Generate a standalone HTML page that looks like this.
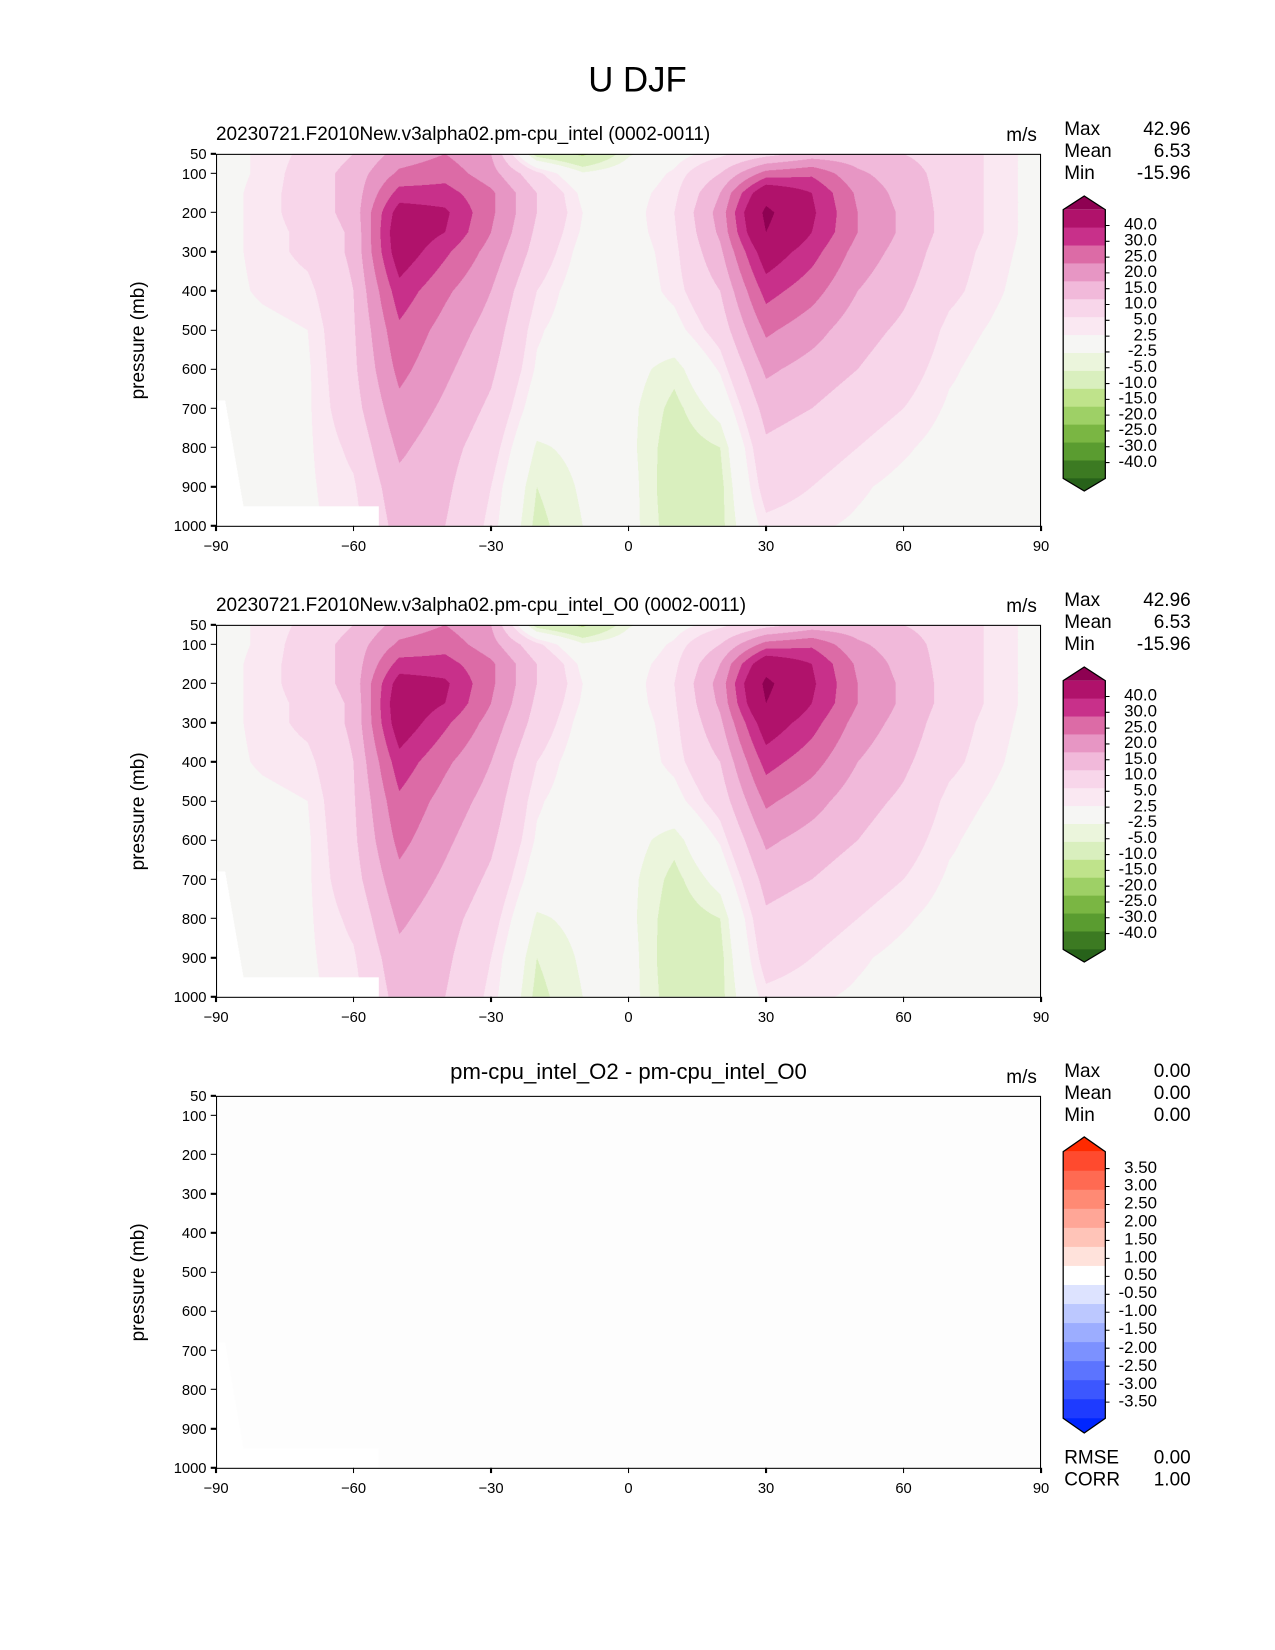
<!DOCTYPE html>
<html><head><meta charset="utf-8">
<style>
body{margin:0;background:#fff;}
#wrap{position:relative;width:1275px;height:1650px;overflow:hidden;background:#fff;}
#root{position:absolute;left:0;top:0;width:1210px;height:1566px;background:#fff;font-family:"Liberation Sans","DejaVu Sans",sans-serif;color:#000;transform:scale(1.0537);transform-origin:0 0;}
.t{position:absolute;white-space:nowrap;}
.ax{position:absolute;border:1.3px solid #000;box-sizing:border-box;}
canvas{position:absolute;}
</style></head>
<body>
<div id="wrap">
<div id="root">
<div class="t" style="left:0;width:1210px;text-align:center;top:57px;font-size:33px;"><span style="position:relative;left:0px">U DJF</span></div>
</div>
</div>
<script>
// ---- data ----
const lats = [-90,-80,-70,-60,-50,-40,-30,-20,-10,0,10,20,30,40,50,60,70,80,90];
const plevs = [50,100,150,200,250,300,400,500,600,700,800,900,1000];
const uLatM90 = [1,1,1,1,1,1,1,0.5,0.5,0.5,0.5,0.5,0.5];
const uLatM80 = [3,3,3.5,3.5,3.5,3.5,3,1.5,1,1,1,1,1];
const uLatM70 = [6,7,7,7,6,6,4,2.5,2,2,2,2,2];
const uLatM60 = [10,12,12,12,11,11,10,9.5,9,8,6,4.5,3.5];
const uLatM50 = [17,21,27,33,35,34,28,24,21.5,18.5,16,13.5,12];
const uLatM40 = [20,23,27,31,30,26,21,18,16,14,12,11,10];
const uLatM30 = [15,17,21,21,20,18,15,13,11,9,7,5,4];
const uLatM20 = [-7,6,10,10,9,8,5,3,2,0,-3,-5,-6];
const uLatM10 = [-11,-2,1.5,2.5,2,1,0,0,0,-1,-1.5,-2,-2.5];
const uLat0 = [-3,0,1,1,1,0.5,0,-0.5,-1,-1.5,-1.5,-1,-1];
const uLat10 = [1,3,4,5,4.5,4,3.5,1,-4,-6,-7,-7.5,-7];
const uLat20 = [4,10,15,17,16,14,10,7,3,-1,-5,-6,-6];
const uLat30 = [8,22,36,42,40,34,27,21,16,12,9,7,4];
const uLat40 = [12,24,30,31,30,27,22,17,13,10,7,5,3];
const uLat50 = [12,16,19,20,20,18,15,12,10,7,5,3,2];
const uLat60 = [10,12,13,14,14,13,11,9,7,5,3,1.5,1];
const uLat70 = [8,8,8,8,8,7,6,4,3,2,1,1,0.5];
const uLat80 = [4,4,4,4,4,3.5,3,2,1,1,0.5,0.5,0.5];
const uLat90 = [1,1,1,1,1,1,0.5,0.5,0.5,0.5,0.5,0.5,0.5];
const uCols = [uLatM90,uLatM80,uLatM70,uLatM60,uLatM50,uLatM40,uLatM30,uLatM20,uLatM10,uLat0,uLat10,uLat20,uLat30,uLat40,uLat50,uLat60,uLat70,uLat80,uLat90];
const levels = [40,30,25,20,15,10,5,2.5,-2.5,-5,-10,-15,-20,-25,-30,-40];
const levelLabels = ["40.0","30.0","25.0","20.0","15.0","10.0","5.0","2.5","-2.5","-5.0","-10.0","-15.0","-20.0","-25.0","-30.0","-40.0"];
const diffLabels = ["3.50","3.00","2.50","2.00","1.50","1.00","0.50","-0.50","-1.00","-1.50","-2.00","-2.50","-3.00","-3.50"];
const xTicks = [-90,-60,-30,0,30,60,90];
const yTicks = [50,100,200,300,400,500,600,700,800,900,1000];
const statsTop = ["42.96","6.53","-15.96"];
const statsDiff = ["0.00","0.00","0.00"];

const binColors = ["#8e0152","#b0126b","#c8308a","#dc6ba6","#e796c4","#f1b9da","#f8d6ea","#fae8f2","#f6f6f4","#ebf5dc","#d9efbe","#bfe38b","#9ed066","#7ab643","#5a9c30","#3c7a22","#27621a"];
const diffColors = ["#ff2a00","#ff4a2e","#ff6a52","#ff8a74","#ffa697","#ffc4b8","#ffe2db","#ffffff","#dde3ff","#bcc8ff","#9cadff","#7c91ff","#5c74ff","#3c57ff","#1e3bff","#0026ff"];

const root = document.getElementById('root');
const AX_L=205, AX_W=783, AX_H=353;
function xs(lat){return (lat+90)/180*AX_W;}
function ys(p){return (p-50)/950*AX_H;}
function txt(s,x,y,size,name,extra){
  const d=document.createElement('div');d.className='t';d.textContent=s;
  
  
  d.style.left=x+'px';d.style.top=y+'px';d.style.fontSize=size+'px';
  if(extra) d.style.cssText+=extra;
  root.appendChild(d);return d;
}
function val(lat,p){
  let i=Math.min(lats.length-2,Math.max(0,Math.floor((lat+90)/10)));
  let fx=(lat-lats[i])/10;
  let j=0;while(j<plevs.length-2&&p>plevs[j+1])j++;
  let fy=(p-plevs[j])/(plevs[j+1]-plevs[j]);
  fx=Math.max(0,Math.min(1,fx));fy=Math.max(0,Math.min(1,fy));
  const a=uCols[i][j],b=uCols[i+1][j],c=uCols[i][j+1],d=uCols[i+1][j+1];
  return a*(1-fx)*(1-fy)+b*fx*(1-fy)+c*(1-fx)*fy+d*fx*fy;
}
function colorFor(v){
  for(let k=0;k<levels.length;k++){ if(v>levels[k]) return binColors[k]; }
  return binColors[binColors.length-1];
}
function missing(lat,p){
  if(p>950&&lat<-54.5) return true;
  if(p>680&&lat< -88+(p-680)/270*4) return true;
  return false;
}
function panel(top,title,titleCenter,filled,stats,idx){
  const S=2;
  const cv=document.createElement('canvas');cv.width=AX_W*S;cv.height=AX_H*S;
  cv.style.left=AX_L+'px';cv.style.top=top+'px';cv.style.width=AX_W+'px';cv.style.height=AX_H+'px';
  
  
  root.appendChild(cv);
  const ctx=cv.getContext('2d');
  ctx.fillStyle='#fff';ctx.fillRect(0,0,AX_W*S,AX_H*S);
  for(let py=0;py<AX_H*S;py++){
    const p=50+(py+0.5)/(AX_H*S)*950;
    for(let px=0;px<AX_W*S;px++){
      const lat=-90+(px+0.5)/(AX_W*S)*180;
      if(missing(lat,p)) continue;
      ctx.fillStyle=filled?colorFor(val(lat,p)):'#fdfdfd';ctx.fillRect(px,py,1,1);
    }
  }
  const ax=document.createElement('div');ax.className='ax';
  
  
  ax.style.cssText+=`left:${AX_L}px;top:${top}px;width:${AX_W}px;height:${AX_H+1}px;`;
  root.appendChild(ax);
  yTicks.forEach(p=>{
    const y=top+ys(p);
    const tk=document.createElement('div');tk.style.cssText=`position:absolute;left:${AX_L-5}px;top:${y-0.6}px;width:5px;height:1.3px;background:#000`;
    
    
    root.appendChild(tk);
    txt(String(p),0,y-8,14,'y-tick-label','width:'+(AX_L-9)+'px;text-align:right;');
  });
  xTicks.forEach(l=>{
    const x=AX_L+xs(l);
    const tk=document.createElement('div');tk.style.cssText=`position:absolute;left:${x-0.6}px;top:${top+AX_H}px;width:1.3px;height:5px;background:#000`;
    
    
    root.appendChild(tk);
    txt(String(l).replace('-','\u2212'),x-30,top+AX_H+11,14,'x-tick-label','width:60px;text-align:center;');
  });
  txt('pressure (mb)',131,top+AX_H/2,18,'y-axis-title','transform:translate(-50%,-50%) rotate(-90deg);');
  if(titleCenter) txt(title,AX_L,top-34,21,'panel-title','width:'+AX_W+'px;text-align:center;');
  else txt(title,AX_L,top-29,18,'panel-title');
  txt('m/s',955,top-28,18,'units-label');
  ['Max','Mean','Min'].forEach((s,k)=>{
    txt(s,1010,top-34+k*21,18,'stat-name');
    txt(stats[k],1030,top-34+k*21,18,'stat-value','width:100px;text-align:right;');
  });
}
panel(146,'20230721.F2010New.v3alpha02.pm-cpu_intel (0002-0011)',false,true,statsTop,1);
panel(593,'20230721.F2010New.v3alpha02.pm-cpu_intel_O0 (0002-0011)',false,true,statsTop,2);
panel(1040,'pm-cpu_intel_O2 - pm-cpu_intel_O0',true,false,statsDiff,3);
txt('RMSE',1010,1373,18,'rmse-label');
txt('0.00',1030,1373,18,'rmse-value','width:100px;text-align:right;');
txt('CORR',1010,1394,18,'corr-label');
txt('1.00',1030,1394,18,'corr-value','width:100px;text-align:right;');

function colorbar(apex,rTop,rBot,apex2,colors,labels,lab0,labStep,idx){
  const ns='http://www.w3.org/2000/svg';
  const svg=document.createElementNS(ns,'svg');
  svg.setAttribute('width','80');svg.setAttribute('height',String(apex2-apex+4));
  svg.style.cssText=`position:absolute;left:1005px;top:${apex-2}px;`;
  
  
  const o=apex-2, L=4, R=44;
  const n=colors.length-2; const h=(rBot-rTop)/n;
  const add=(tag,attrs)=>{const e=document.createElementNS(ns,tag);for(const k in attrs)e.setAttribute(k,attrs[k]);svg.appendChild(e);return e;};
  add('polygon',{points:`${L},${rTop-o} ${(L+R)/2},${apex-o} ${R},${rTop-o}`,fill:colors[0]});
  for(let k=0;k<n;k++) add('rect',{x:L,y:rTop-o+k*h,width:R-L,height:h+0.5,fill:colors[k+1]});
  add('polygon',{points:`${L},${rBot-o} ${(L+R)/2},${apex2-o} ${R},${rBot-o}`,fill:colors[colors.length-1]});
  add('polygon',{points:`${L},${rTop-o} ${(L+R)/2},${apex-o} ${R},${rTop-o} ${R},${rBot-o} ${(L+R)/2},${apex2-o} ${L},${rBot-o}`,fill:'none',stroke:'#000','stroke-width':1.2});
  labels.forEach((s,k)=>{
    const y=lab0+k*labStep;
    add('line',{x1:R,x2:R+4,y1:y-o,y2:y-o,stroke:'#000','stroke-width':1});
  });
  root.appendChild(svg);
  labels.forEach((s,k)=>{
    const y=lab0+k*labStep;
    txt(s,1000,y-9,16,'colorbar-label','width:98px;text-align:right;line-height:18px;');
  });
}
colorbar(186,199,454,466,binColors,levelLabels,214,15,1);
colorbar(633,646,901,913,binColors,levelLabels,661,15,2);
colorbar(1079,1093,1346,1360,diffColors,diffLabels,1109,17.05,3);
</script>
</body></html>
